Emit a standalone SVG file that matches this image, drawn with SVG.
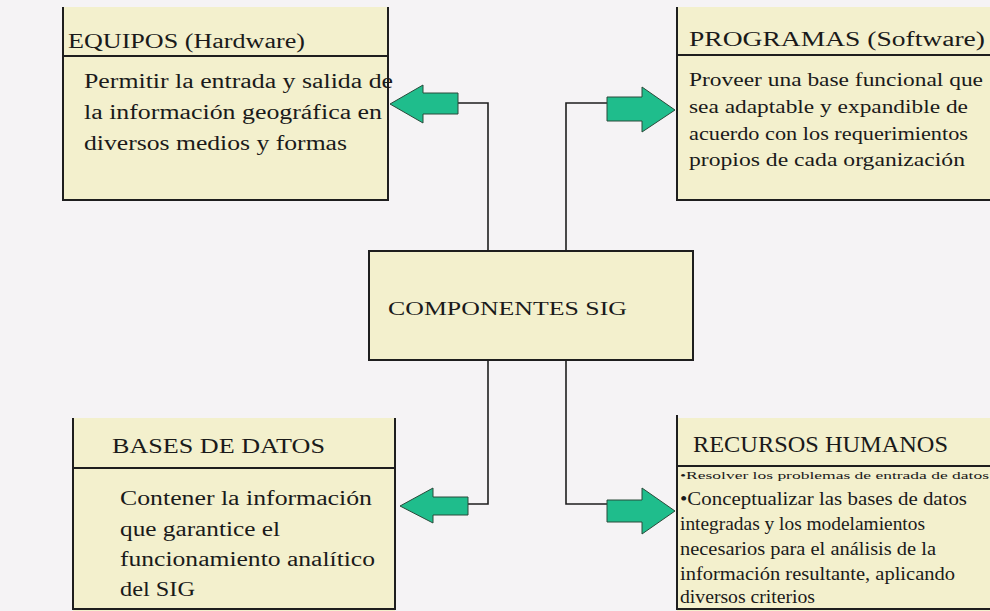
<svg xmlns="http://www.w3.org/2000/svg" width="990" height="611" viewBox="0 0 990 611">
<defs>
<style>
.bg{fill:#f5f3f5}
.box{fill:#f3f0cd}
.ln{fill:none;stroke:#1e1e1e;stroke-width:2}
.cn{fill:none;stroke:#1e1e1e;stroke-width:1.6}
.ar{fill:#1fbd8c;stroke:#2a4a3a;stroke-width:1}
.t{font-family:"Liberation Serif","Times New Roman",serif;fill:#1a1a1a}
</style>
</defs>
<rect class="bg" x="0" y="0" width="990" height="611"/>

<g id="equipos">
<rect class="box" x="63" y="7" width="325" height="193"/>
<path class="ln" d="M63,7 V200 H388 V7 M63,56 H388"/>
<text class="t" x="68" y="48" font-size="20" textLength="237" lengthAdjust="spacingAndGlyphs">EQUIPOS (Hardware)</text>
<text class="t" x="84" y="88" font-size="20" textLength="309" lengthAdjust="spacingAndGlyphs">Permitir la entrada y salida de</text>
<text class="t" x="84" y="119" font-size="20" textLength="298" lengthAdjust="spacingAndGlyphs">la información geográfica en</text>
<text class="t" x="84" y="150" font-size="20" textLength="263" lengthAdjust="spacingAndGlyphs">diversos medios y formas</text>
</g>

<g id="programas">
<rect class="box" x="677" y="7" width="320" height="193"/>
<path class="ln" d="M677,7 V200 H992 M677,55 H992"/>
<text class="t" x="689" y="46" font-size="20" textLength="296" lengthAdjust="spacingAndGlyphs">PROGRAMAS (Software)</text>
<text class="t" x="689" y="86" font-size="18" textLength="294" lengthAdjust="spacingAndGlyphs">Proveer una base funcional que</text>
<text class="t" x="689" y="113" font-size="18" textLength="279" lengthAdjust="spacingAndGlyphs">sea adaptable y expandible de</text>
<text class="t" x="689" y="140" font-size="18" textLength="279" lengthAdjust="spacingAndGlyphs">acuerdo con los requerimientos</text>
<text class="t" x="689" y="166" font-size="18" textLength="276" lengthAdjust="spacingAndGlyphs">propios de cada organización</text>
</g>

<g id="componentes">
<rect class="box" x="369" y="251" width="324" height="109"/>
<rect class="ln" x="369" y="251" width="324" height="109"/>
<text class="t" x="388" y="315" font-size="19" textLength="239" lengthAdjust="spacingAndGlyphs">COMPONENTES SIG</text>
</g>

<g id="bases">
<rect class="box" x="73" y="418" width="322" height="195"/>
<path class="ln" d="M73,418 V609 H395 V418 M73,468 H395"/>
<text class="t" x="112" y="453" font-size="20" textLength="213" lengthAdjust="spacingAndGlyphs">BASES DE DATOS</text>
<text class="t" x="120" y="505" font-size="20" textLength="252" lengthAdjust="spacingAndGlyphs">Contener la información</text>
<text class="t" x="120" y="536" font-size="20" textLength="160" lengthAdjust="spacingAndGlyphs">que garantice el</text>
<text class="t" x="120" y="566" font-size="20" textLength="255" lengthAdjust="spacingAndGlyphs">funcionamiento analítico</text>
<text class="t" x="120" y="596" font-size="20" textLength="75" lengthAdjust="spacingAndGlyphs">del SIG</text>
</g>

<g id="recursos">
<rect class="box" x="677" y="418" width="320" height="195"/>
<path class="ln" d="M677,415 V609 H992 M677,466 H992"/>
<text class="t" x="693" y="452" font-size="23" textLength="255" lengthAdjust="spacingAndGlyphs">RECURSOS HUMANOS</text>
<text class="t" x="680" y="479" font-size="11" textLength="309" lengthAdjust="spacingAndGlyphs">•Resolver los problemas de entrada de datos</text>
<text class="t" x="680" y="505" font-size="18" textLength="287" lengthAdjust="spacingAndGlyphs">•Conceptualizar las bases de datos</text>
<text class="t" x="680" y="530" font-size="18" textLength="245" lengthAdjust="spacingAndGlyphs">integradas y los modelamientos</text>
<text class="t" x="680" y="555" font-size="18" textLength="256" lengthAdjust="spacingAndGlyphs">necesarios para el análisis de la</text>
<text class="t" x="680" y="580" font-size="18" textLength="275" lengthAdjust="spacingAndGlyphs">información resultante, aplicando</text>
<text class="t" x="680" y="603" font-size="18" textLength="135" lengthAdjust="spacingAndGlyphs">diversos criterios</text>
</g>

<g id="connectors">
<path class="cn" d="M488,251 V103 H457"/>
<path class="cn" d="M566,251 V103 H607"/>
<path class="cn" d="M488,360 V504 H468"/>
<path class="cn" d="M566,360 V504 H607"/>
<polygon class="ar" points="458,93 423,93 423,85 390,104 423,123 423,114 458,114"/>
<polygon class="ar" points="607,97 642,97 642,87 675,110 642,132 642,121 607,121"/>
<polygon class="ar" points="468,497 433,497 433,488 400,506 433,523 433,515 468,515"/>
<polygon class="ar" points="607,500 642,500 642,488 675,511 642,534 642,522 607,522"/>
</g>
</svg>
